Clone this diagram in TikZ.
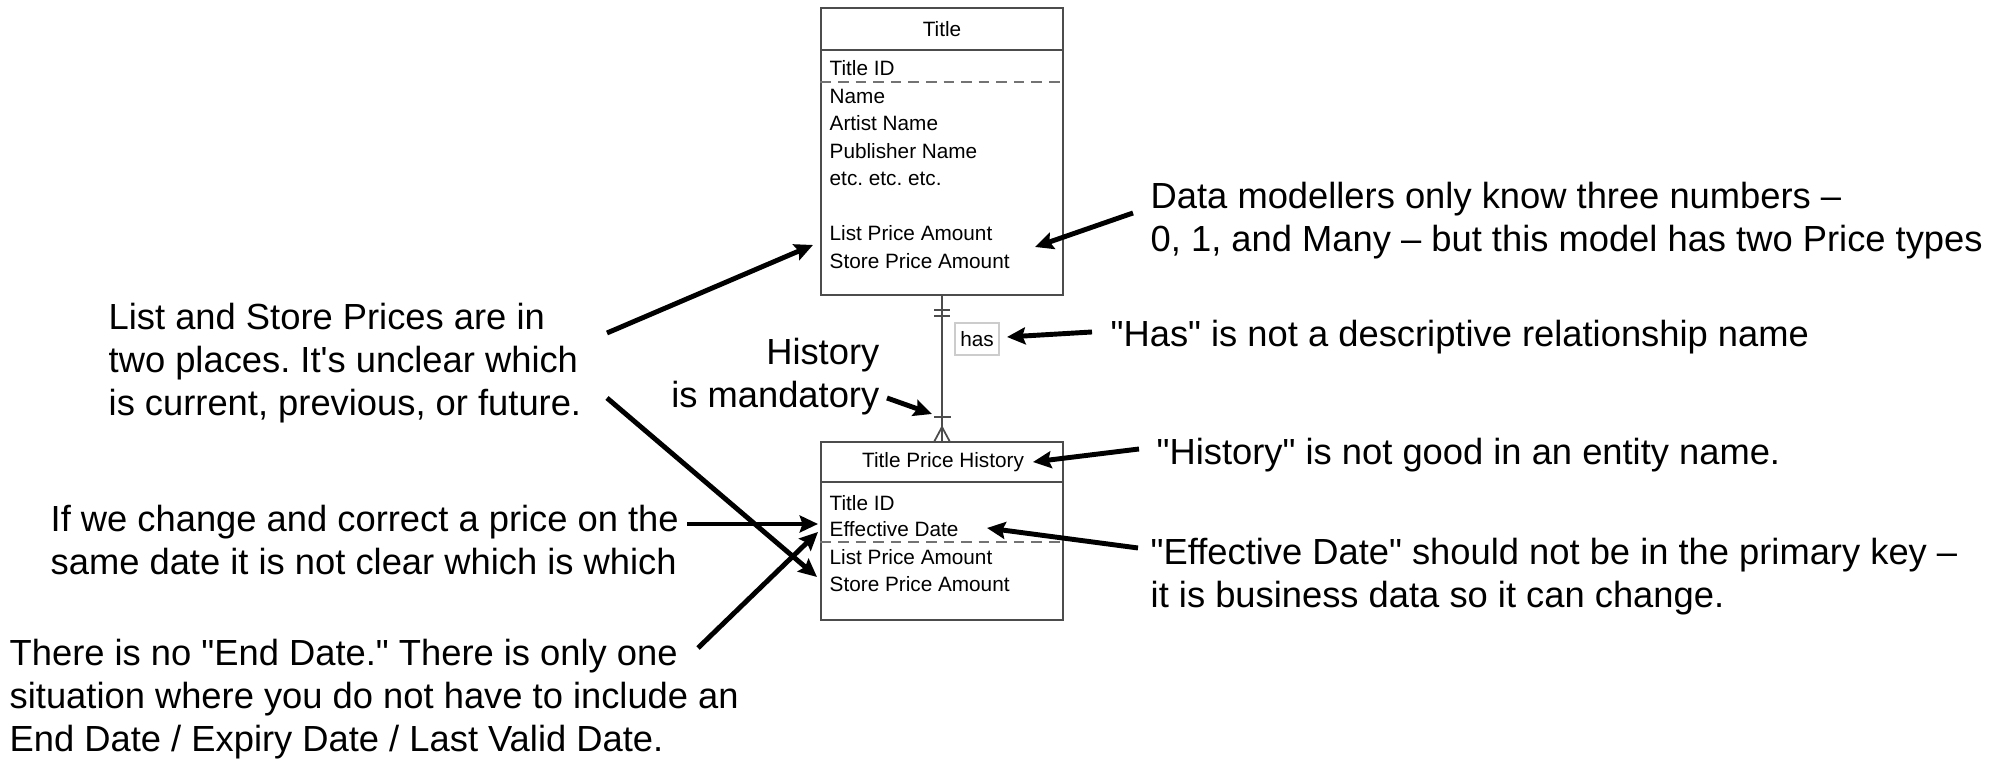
\documentclass[tikz,border=0pt]{standalone}
\usepackage{fontspec}
\newfontfamily\erdfont{Liberation Sans}
\usetikzlibrary{arrows.meta}

\tikzset{
  entity/.style={draw=black!70, line width=0.55pt, minimum width=2.41cm, inner sep=0pt},
  attr/.style={font=\erdfont\fontsize{5.9}{7}\selectfont, anchor=base west, inner sep=0pt},
  heading/.style={font=\erdfont\fontsize{5.9}{7}\selectfont, anchor=base, inner sep=0pt},
  note/.style={font=\erdfont\fontsize{10.33}{12.3}\selectfont, align=left, anchor=north west, inner sep=0pt},
  callout/.style={-{Stealth[length=5.2pt,width=4.8pt,inset=0.8pt]}, line width=1.4pt},
  keyline/.style={black!55, line width=0.6pt, dash pattern=on 3pt off 2pt},
  relline/.style={black!70, line width=0.5pt}
}

\begin{document}
\frenchspacing
\begin{tikzpicture}[x=0.01cm, y=-0.01cm]
\useasboundingbox (0,0) rectangle (2009,762);

% entities
\node[entity, minimum height=2.87cm] (title) at (942,151.5) {};
\node[entity, minimum height=1.78cm] (tph) at (942,531) {};
\draw[relline] (title.west |- 0,50) -- (title.east |- 0,50);
\draw[relline] (tph.west |- 0,482) -- (tph.east |- 0,482);
\draw[keyline] (title.west |- 0,82) -- (title.east |- 0,82);
\draw[keyline] (tph.west |- 0,542) -- (tph.east |- 0,542);

\node[heading] (titlehd) at (942,36.5) {Title};
\node[heading] (tphhd) at (943,468) {Title Price History};

\node[attr] (tid) at (829,76) {Title ID};
\foreach \a [count=\i] in {Name, Artist Name, Publisher Name, etc. etc. etc.}
  \node[attr] (tatt\i) at (829,76+27.5*\i) {\a};
\node[attr] (tlist) at (829,241) {List Price Amount};
\node[attr] (tstore) at (829,268.5) {Store Price Amount};

\node[attr] (pid) at (829,510.5) {Title ID};
\node[attr] (peff) at (829,537) {Effective Date};
\node[attr] (plist) at (829,565) {List Price Amount};
\node[attr] (pstore) at (829,591.5) {Store Price Amount};

% relationship
\draw[relline] (title.south) -- (tph.north);
\draw[relline] (934,310) -- (950,310) (934,316) -- (950,316);
\draw[relline] (934,417) -- (951,417);
\draw[relline] (934,442) -- (942,427) -- (950,442);
\node[draw=black!20, line width=0.4pt, inner sep=0pt, minimum width=0.44cm,
  minimum height=0.32cm, font=\erdfont\fontsize{5.9}{7}\selectfont] (hasl) at (977,339) {has};

% notes
\node[note] (lsp) at (108,302) {List and Store Prices are in\\two places. It's unclear which\\is current, previous, or future.};
\node[note] (chg) at (50,504) {If we change and correct a price on the\\same date it is not clear which is which};
\node[note] (endn) at (9,638) {There is no "End Date." There is only one\\situation where you do not have to include an\\End Date / Expiry Date / Last Valid Date.};
\node[note, align=right, anchor=north east] (mand) at (880,337) {History\\is mandatory};
\node[note] (many) at (1150,181) {Data modellers only know three numbers –\\0, 1, and Many – but this model has two Price types};
\node[note] (hasn) at (1110,319) {"Has" is not a descriptive relationship name};
\node[note] (histn) at (1156,437) {"History" is not good in an entity name.};
\node[note] (effn) at (1150,537) {"Effective Date" should not be in the primary key –\\it is business data so it can change.};

% callout ends
\coordinate (lspa) at (607,333);
\coordinate (lspb) at (607,398);
\coordinate (chga) at (687,524);
\coordinate (enda) at (698,648);
\coordinate (manda) at (887,398);
\coordinate (manya) at (1133,213);
\coordinate (hasa) at (1092,332);
\coordinate (hista) at (1139,449);
\coordinate (effa) at (1138,548);
\coordinate (tolist) at (813,245);
\coordinate (tostore) at (817,577);
\coordinate (toeff) at (818,524);
\coordinate (toeffb) at (818,532);
\coordinate (tobar) at (932,414);
\coordinate (tomodel) at (1035,247);
\coordinate (tohas) at (1007,337);
\coordinate (tohist) at (1033,462);
\coordinate (toeffr) at (987,528);

\draw[callout] (lspa) -- (tolist);
\draw[callout] (lspb) -- (tostore);
\draw[callout] (chga) -- (toeff);
\draw[callout] (enda) -- (toeffb);
\draw[callout] (manda) -- (tobar);
\draw[callout] (manya) -- (tomodel);
\draw[callout] (hasa) -- (tohas);
\draw[callout] (hista) -- (tohist);
\draw[callout] (effa) -- (toeffr);
\end{tikzpicture}
\end{document}
